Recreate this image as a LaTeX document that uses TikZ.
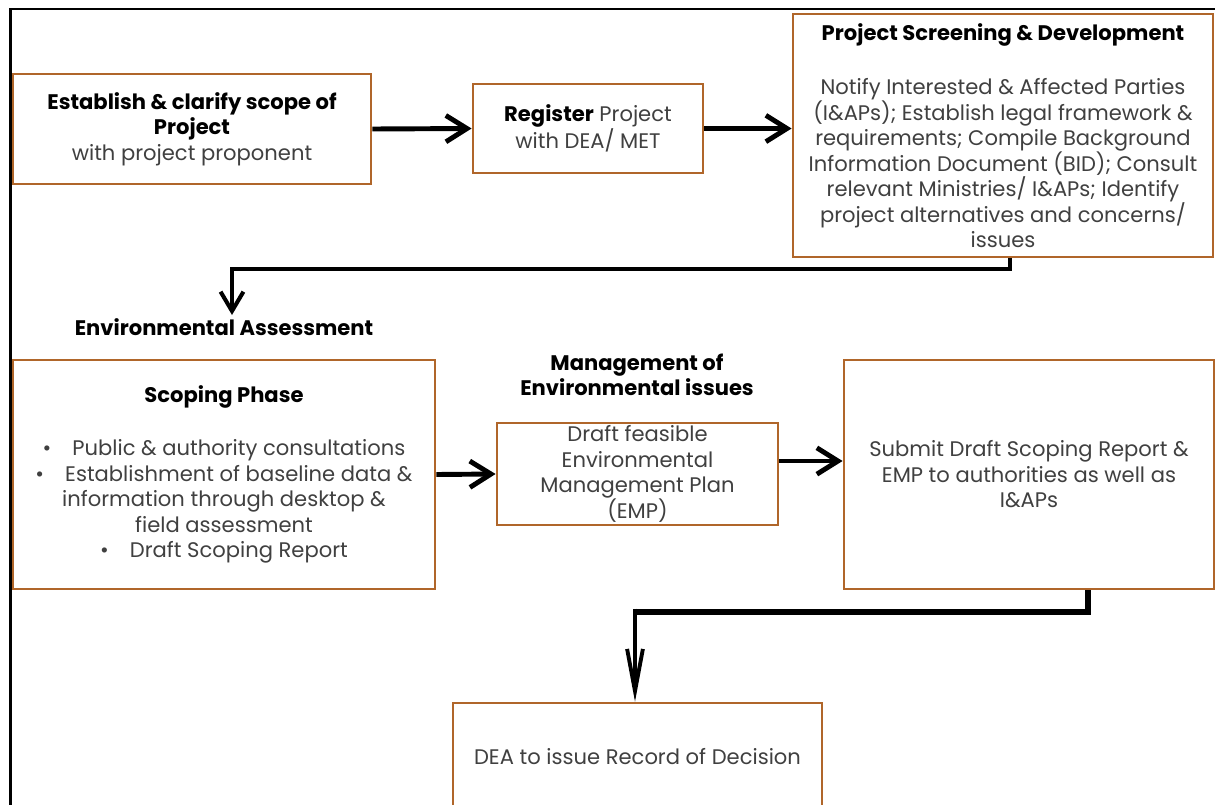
\documentclass[tikz,border=0pt]{standalone}
\usepackage{fontspec}
\setmainfont{Poppins}
\usetikzlibrary{arrows.meta,calc}
\definecolor{boxbrown}{HTML}{B0662A}
\definecolor{txtgray}{HTML}{404040}
\newcommand\fs{\fontsize{12}{14.5}\selectfont}
\newcommand\hd[1]{{\bfseries\color{black}#1}}
\newcommand\px[1]{#1*0.02cm}
\begin{document}
\begin{tikzpicture}[x=0.02cm,y=-0.02cm,
  box/.style={draw=boxbrown, line width=1.6pt, inner sep=0pt, align=center, text=txtgray, font=\fs},
  lbl/.style={align=center, font=\fs\bfseries, text=black, inner sep=0pt},
  arr/.style={line width=2.8pt, -{Straight Barb[length=12pt,width=15pt]}},
  conn/.style={line width=2.3pt},
  frame/.style={line width=1.7pt, black}]
\clip (0,0) rectangle (1215,805);
\fill[white] (0,0) rectangle (1215,805);
\draw[frame] (10.5,820) -- (10.5,9) -- (1230,9);

\node[box, minimum width=\px{358}, minimum height=\px{110}] (est) at (192,129)
  {\hd{Establish \& clarify scope of}\\\hd{Project}\\with project proponent};
\node[box, minimum width=\px{230}, minimum height=\px{89}] (reg) at (588,128.5)
  {\hd{Register} Project\\with DEA/ MET};
\node[box, minimum width=\px{420}, minimum height=\px{243}] (scr) at (1003,135.5)
  {\hd{Project Screening \& Development}\\[16.7pt]Notify Interested \& Affected Parties\\(I\&APs); Establish legal framework \&\\requirements; Compile Background\\Information Document (BID); Consult\\relevant Ministries/ I\&APs; Identify\\project alternatives and concerns/\\issues};

\node[lbl] (ea) at (224,327) {Environmental Assessment};
\node[lbl] (mg) at (637,375) {Management of\\Environmental issues};

\node[box, minimum width=\px{422}, minimum height=\px{229}] (scop) at (224,474.5)
  {\hd{Scoping Phase}\\[15.6pt]\textbullet\quad Public \& authority consultations\\\textbullet\quad Establishment of baseline data \&\\information through desktop \&\\field assessment\\\textbullet\quad Draft Scoping Report};
\node[box, minimum width=\px{281}, minimum height=\px{102}] (draft) at (637.5,474)
  {Draft feasible\\Environmental\\Management Plan\\(EMP)};
\node[box, minimum width=\px{370}, minimum height=\px{229}] (sub) at (1029,474.5)
  {Submit Draft Scoping Report \&\\EMP to authorities as well as\\I\&APs};
\node[box, minimum width=\px{369}, minimum height=\px{107}] (dea) at (637.5,756.5)
  {DEA to issue Record of Decision};

\draw[arr] (est.east) -- (reg.west);
\draw[arr] (reg.east) -- (reg.east -| scr.west);
\draw[arr] (scop.east) -- (draft.west);
\draw[arr] ($(draft.east)+(0,-13)$) -- ($(draft.east -| sub.west)+(0,-13)$);

\coordinate (eatip) at (232,315);
\draw[conn, -{Straight Barb[length=11pt,width=13pt]}] ($(scr.south)+(7,0)$) -- ++(0,11) -| (eatip);

\coordinate (c1) at (635,612);
\draw[line width=3.8pt] ($(sub.south)+(59,0)$) |- (c1);
\draw[line width=2.2pt, -{Straight Barb[length=24pt,width=9pt]}] ([yshift=1.9pt]c1) -- (c1 |- dea.north);
\end{tikzpicture}
\end{document}
